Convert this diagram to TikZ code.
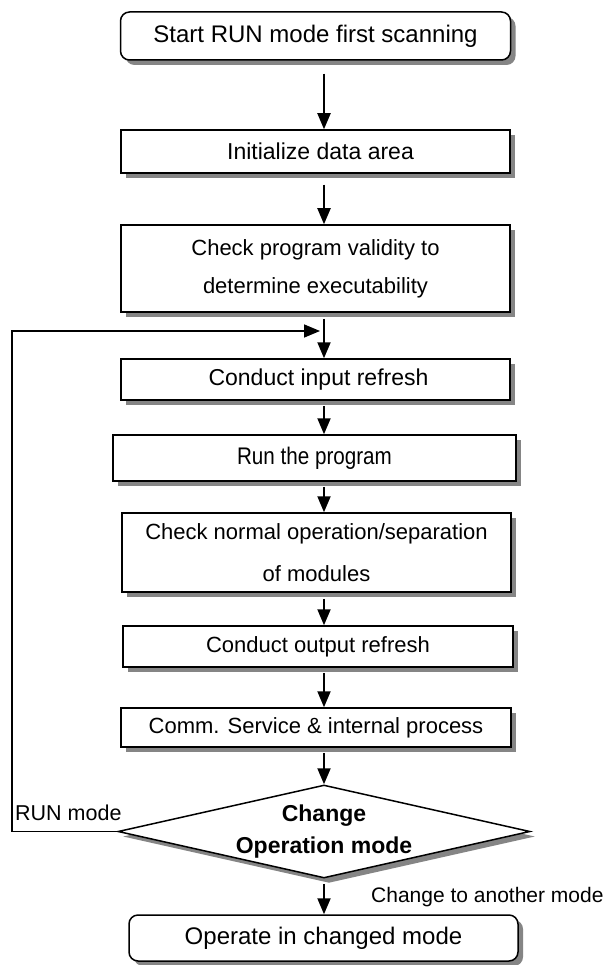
\documentclass[tikz,border=0pt]{standalone}
\usepackage{graphicx}
\usepackage{fontspec}
\setmainfont{Liberation Sans}
\usetikzlibrary{shapes.geometric,arrows.meta,shadows,calc}
\begin{document}
\begin{tikzpicture}[x=1pt,y=-1pt,
  shad/.style={drop shadow={shadow xshift=5pt,shadow yshift=-5pt,fill=black!48,opacity=1}},
  box/.style={draw,line width=1.5pt,fill=white,inner sep=0pt,align=center,
    font=\fontsize{22}{38}\selectfont,shad},
  rbox/.style={box,rounded corners=9pt},
  arr/.style={line width=2pt,-{Triangle[length=16pt,width=13pt]}},
  loopline/.style={line width=1.6pt,-{Triangle[length=16pt,width=13pt]}},
  lbl/.style={inner sep=0pt,anchor=west,font=\fontsize{21.5}{26}\selectfont}]
\useasboundingbox[fill=white] (0,0) rectangle (608,965);
\coordinate (ax) at (324,0);
\node[rbox,minimum width=390pt,minimum height=48pt,font=\fontsize{24}{30}\selectfont] (start) at (315.5,36) {Start RUN mode first scanning};
\node[box,minimum width=389pt,minimum height=43pt,font=\fontsize{23}{30}\selectfont] (init) at (315.5,151.5) {\hspace*{10pt}Initialize data area};
\node[box,minimum width=389pt,minimum height=87pt] (check) at (315.5,268.5) {Check program validity to\\determine executability};
\node[box,minimum width=389pt,minimum height=41pt,font=\fontsize{23}{30}\selectfont] (input) at (315.5,379.5) {\hspace*{6pt}Conduct input refresh};
\node[box,minimum width=403pt,minimum height=46pt,font=\fontsize{24}{30}\selectfont] (run) at (314.5,458) {\raisebox{3pt}{\scalebox{0.86}[1]{Run the program}}};
\node[box,minimum width=389pt,minimum height=79pt,font=\fontsize{22}{42}\selectfont] (mods) at (316.5,552.5) {Check normal operation/separation\\of modules};
\node[box,minimum width=390pt,minimum height=41pt] (output) at (318,646.5) {Conduct output refresh};
\node[box,minimum width=390pt,minimum height=39pt] (comm) at (316,727.5) {Comm. Service \& internal process};
\node[draw,diamond,line width=1.5pt,fill=white,inner sep=0pt,shad,
  minimum width=412pt,minimum height=93pt,
  label={[font=\bfseries\fontsize{23}{32}\selectfont,align=center]center:{Change\\Operation mode}}] (dec) at (324,831.5) {};
\node[rbox,minimum width=389pt,minimum height=46pt,font=\fontsize{24}{30}\selectfont] (final) at (323.5,938) {Operate in changed mode};
\coordinate (join) at (324,331);
\coordinate (lc) at (12,331);
\draw[arr] ($(start.south -| ax)+(0,13)$) -- (init.north -| ax);
\draw[arr] ($(init.south -| ax)+(0,11)$) -- (check.north -| ax);
\draw[arr] ($(check.south -| ax)+(0,6)$) -- (input.north -| ax);
\draw[arr] ($(input.south -| ax)+(0,5)$) -- (run.north -| ax);
\draw[arr] ($(run.south -| ax)+(0,5)$) -- (mods.north -| ax);
\draw[arr] ($(mods.south -| ax)+(0,6)$) -- (output.north -| ax);
\draw[arr] ($(output.south -| ax)+(0,5)$) -- (comm.north -| ax);
\draw[arr] ($(comm.south -| ax)+(0,5)$) -- (dec.north);
\draw[arr] ($(dec.south)+(0,5)$) -- (final.north -| ax);
\draw[loopline] (dec.west) -| (lc) -- ($(join)+(-4,0)$);
\node[lbl] (runlbl) at (15,813) {RUN mode};
\node[lbl,font=\fontsize{21}{26}\selectfont] (chglbl) at (371,897) {Change to another mode};
\end{tikzpicture}
\end{document}
